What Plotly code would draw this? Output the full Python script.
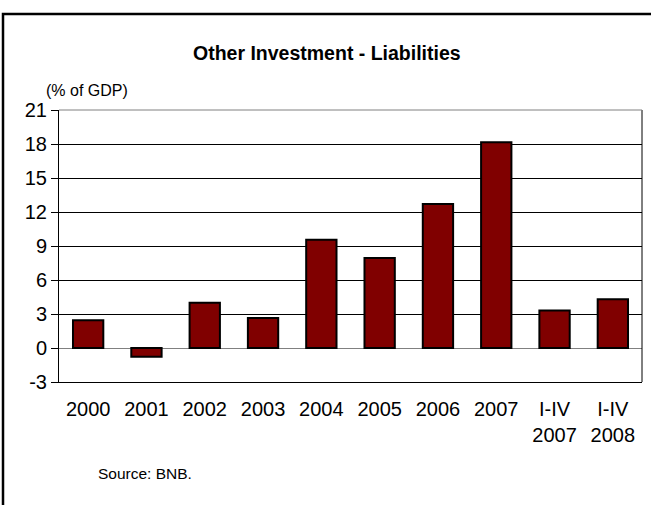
import plotly.graph_objects as go

categories = ["2000", "2001", "2002", "2003", "2004", "2005", "2006", "2007",
              "I-IV<br>2007", "I-IV<br>2008"]
values = [2.45, -0.77, 4.0, 2.65, 9.55, 7.95, 12.7, 18.15, 3.3, 4.3]
y_ticks = [-3, 0, 3, 6, 9, 12, 15, 18, 21]

W, H = 651, 505
L, R, T, B = 59, 642, 110, 382

def px_x(p):
    return (p - L) / (R - L)

def px_y(p):
    return (B - p) / (B - T)

fig = go.Figure()
fig.add_trace(go.Bar(
    x=categories, y=values,
    marker=dict(color="#800000", line=dict(color="black", width=2)),
    width=0.52,
))

font = "Liberation Sans, Arial, sans-serif"
fig.update_layout(
    width=W, height=H,
    margin=dict(l=L, r=W - R, t=T, b=H - B, pad=0),
    paper_bgcolor="white", plot_bgcolor="white",
    showlegend=False,
    font=dict(family=font, color="black", size=20),
    xaxis=dict(
        type="category", showgrid=False, zeroline=False,
        showline=True, linecolor="black", linewidth=1, mirror=False,
        ticks="outside", ticklen=9, tickcolor="rgba(0,0,0,0)",
        tickfont=dict(size=20, family=font, color="black"),
    ),
    yaxis=dict(
        range=[-3, 21], tickvals=y_ticks, ticktext=[str(v) for v in y_ticks],
        showgrid=True, gridcolor="black", gridwidth=1,
        zeroline=True, zerolinecolor="#808080", zerolinewidth=1,
        showline=True, linecolor="black", linewidth=1,
        ticks="outside", ticklen=7, tickcolor="black",
        tickfont=dict(size=20, family=font, color="black"),
    ),
    shapes=[
        dict(type="line", xref="paper", yref="paper", x0=1, x1=1, y0=0, y1=1,
             line=dict(color="black", width=1)),
        dict(type="line", xref="paper", yref="paper", x0=0, x1=1, y0=1, y1=1,
             line=dict(color="#808080", width=1)),
        dict(type="rect", xref="paper", yref="paper",
             x0=px_x(3), x1=px_x(660), y0=px_y(520), y1=px_y(14),
             line=dict(color="black", width=2.5), fillcolor="rgba(0,0,0,0)"),
    ],
    annotations=[
        dict(text="<b>Other Investment - Liabilities</b>", xref="paper", yref="paper",
             x=px_x(327), y=px_y(53), xanchor="center", yanchor="middle",
             showarrow=False, font=dict(size=19.5, family=font, color="black")),
        dict(text="(% of GDP)", xref="paper", yref="paper",
             x=px_x(44), y=px_y(90), xanchor="left", yanchor="middle",
             showarrow=False, font=dict(size=16, family=font, color="black")),
        dict(text="Source: BNB.", xref="paper", yref="paper",
             x=px_x(96), y=px_y(473), xanchor="left", yanchor="middle",
             showarrow=False, font=dict(size=15.5, family=font, color="black")),
    ],
)

fig.write_html("out.html", config={"displayModeBar": False},
               post_script="document.body.style.margin='0px';")
